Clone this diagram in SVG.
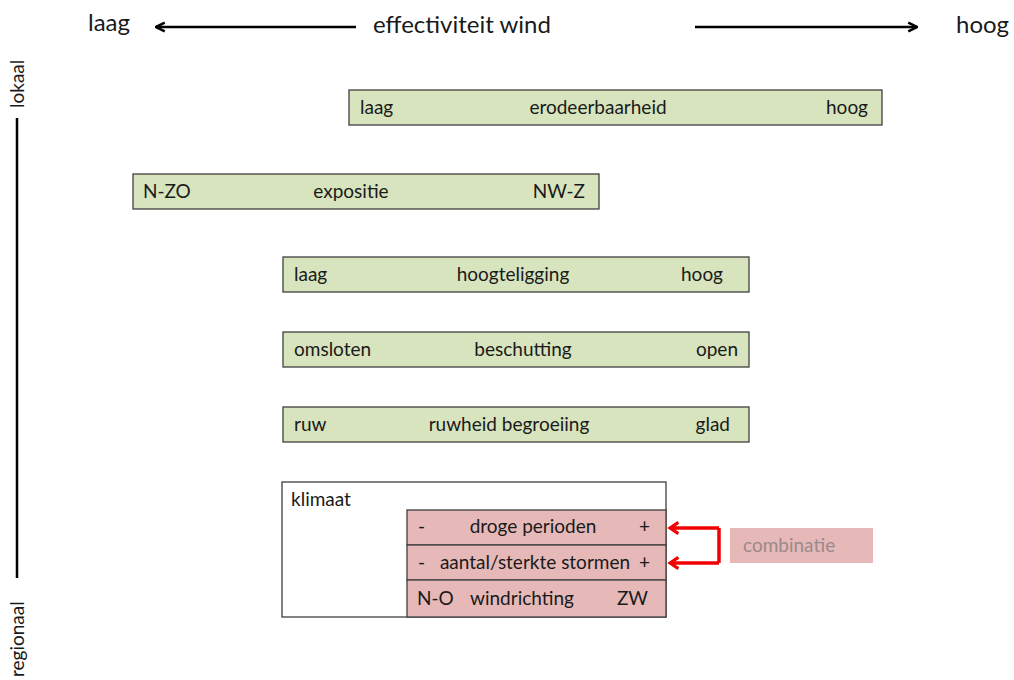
<svg xmlns="http://www.w3.org/2000/svg" width="1014" height="680" viewBox="0 0 1014 680">
<defs>
<style>
text{font-family:Lato,"Liberation Sans",sans-serif;fill:#1a1a1a}
.t{font-size:19px}
.h{font-size:24px}
.g{fill:#d7e4bd;stroke:#3f3f3f;stroke-width:1.3}
.p{fill:#e6b9b8;stroke:#3f3f3f;stroke-width:1.3}
.ax{stroke:#000;stroke-width:2.5;fill:none}
.red{stroke:#f00000;stroke-width:3.5;fill:none}
</style>
<marker id="ah" viewBox="0 0 10 10" refX="9" refY="5" markerWidth="5" markerHeight="5" orient="auto" markerUnits="strokeWidth"><path d="M2 1.5 L9 5 L2 8.5" fill="none" stroke="#000" stroke-width="2"/></marker>
<marker id="rh" viewBox="0 0 10 10" refX="8" refY="5" markerWidth="4" markerHeight="4" orient="auto" markerUnits="strokeWidth"><path d="M2 1 L8 5 L2 9" fill="none" stroke="#f00000" stroke-width="2.2"/></marker>
</defs>
<rect width="1014" height="680" fill="#fff"/>
<g id="axis">
<text class="h" x="88" y="31">laag</text>
<text class="h" x="373" y="33">effectiviteit wind</text>
<text class="h" x="956" y="33">hoog</text>
<line class="ax" x1="356" y1="27" x2="156" y2="27" marker-end="url(#ah)"/>
<line class="ax" x1="695" y1="27" x2="917" y2="27" marker-end="url(#ah)"/>
<line x1="17" y1="118" x2="17" y2="578" stroke="#000" stroke-width="2.5"/>
<text class="t" transform="translate(24,108) rotate(-90)">lokaal</text>
<text class="t" transform="translate(24,677) rotate(-90)">regionaal</text>
</g>
<g id="erodeerbaarheid">
<rect class="g" x="349" y="90" width="533" height="35"/>
<text class="t" x="360" y="114">laag</text>
<text class="t" x="598" y="114" text-anchor="middle">erodeerbaarheid</text>
<text class="t" x="868" y="114" text-anchor="end">hoog</text>
</g>
<g id="expositie">
<rect class="g" x="133" y="174" width="466" height="35"/>
<text class="t" x="143" y="198">N-ZO</text>
<text class="t" x="351" y="198" text-anchor="middle">expositie</text>
<text class="t" x="585" y="198" text-anchor="end">NW-Z</text>
</g>
<g id="hoogteligging">
<rect class="g" x="283" y="257" width="466" height="35"/>
<text class="t" x="294" y="281">laag</text>
<text class="t" x="513" y="281" text-anchor="middle">hoogteligging</text>
<text class="t" x="723" y="281" text-anchor="end">hoog</text>
</g>
<g id="beschutting">
<rect class="g" x="283" y="332" width="466" height="35"/>
<text class="t" x="294" y="356">omsloten</text>
<text class="t" x="523" y="356" text-anchor="middle">beschutting</text>
<text class="t" x="738" y="356" text-anchor="end">open</text>
</g>
<g id="ruwheid">
<rect class="g" x="283" y="407" width="466" height="35"/>
<text class="t" x="294" y="431">ruw</text>
<text class="t" x="509" y="431" text-anchor="middle">ruwheid begroeiing</text>
<text class="t" x="730" y="431" text-anchor="end">glad</text>
</g>
<g id="klimaat">
<rect x="282" y="482" width="384" height="135" fill="#fff" stroke="#3f3f3f" stroke-width="1.3"/>
<text class="t" x="291" y="506">klimaat</text>
</g>
<g id="droge-perioden">
<rect class="p" x="407" y="510" width="259" height="35"/>
<text class="t" x="418" y="533">-</text>
<text class="t" x="533" y="533" text-anchor="middle">droge perioden</text>
<text class="t" x="650" y="533" text-anchor="end">+</text>
</g>
<g id="stormen">
<rect class="p" x="407" y="545" width="259" height="35"/>
<text class="t" x="418" y="569">-</text>
<text class="t" x="535" y="569" text-anchor="middle">aantal/sterkte stormen</text>
<text class="t" x="650" y="569" text-anchor="end">+</text>
</g>
<g id="windrichting">
<rect class="p" x="407" y="580" width="259" height="37"/>
<text class="t" x="417" y="605">N-O</text>
<text class="t" x="522" y="605" text-anchor="middle">windrichting</text>
<text class="t" x="648" y="605" text-anchor="end">ZW</text>
</g>
<g id="combinatie">
<rect x="730" y="528" width="143" height="35" fill="#e6b9b8"/>
<text class="t" x="743" y="552" style="fill:#9a8a8a">combinatie</text>
</g>
<g id="connectors">
<polyline class="red" points="719,528 719,563"/>
<polyline class="red" points="719,528 670,528" marker-end="url(#rh)"/>
<polyline class="red" points="719,563 670,563" marker-end="url(#rh)"/>
</g>
</svg>
